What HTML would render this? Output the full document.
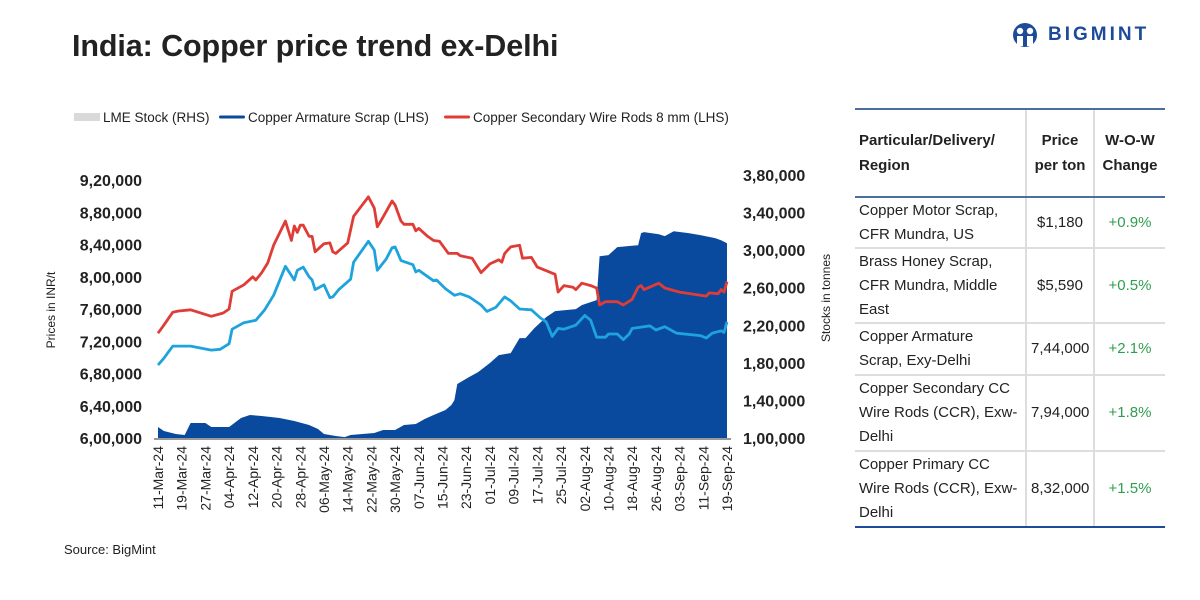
<!DOCTYPE html>
<html><head><meta charset="utf-8">
<style>
*{margin:0;padding:0;box-sizing:border-box}
body{width:1200px;height:600px;background:#fff;font-family:"Liberation Sans",Arial,sans-serif;position:relative;overflow:hidden;color:#222}
#title{position:absolute;left:72px;top:29px;font-size:30.5px;font-weight:bold;color:#222;letter-spacing:-0.1px}
#logo{position:absolute;left:1010px;top:22px;display:flex;align-items:center;gap:8px}
#logo span{font-weight:bold;font-size:19px;color:#1d4b9a;letter-spacing:3px}
#source{position:absolute;left:64px;top:542px;font-size:13px}
table{position:absolute;left:855px;top:108px;width:310px;border-collapse:collapse;font-size:15px;line-height:24px;table-layout:fixed}
td,th{padding:0 4px;vertical-align:middle;overflow:hidden}
th{font-weight:bold;text-align:left;vertical-align:top;padding-top:18px;height:88px;border-top:2px solid #4a6f9a;border-bottom:2px solid #4a6f9a;line-height:25px}
td{border-bottom:2px solid #ddd}
tr:last-child td{border-bottom:2px solid #1d4b9a}
.c2,.c3{text-align:center;border-left:2px solid #ddd}
.c3{color:#2e9e4f}
th.c2,th.c3{text-align:center;color:#222}
</style></head><body>
<div id="title">India: Copper price trend ex-Delhi</div>
<div id="logo">
<svg width="30" height="26" viewBox="0 0 30 26"><circle cx="15" cy="13" r="12" fill="#1d4b9a"/><circle cx="10" cy="9" r="3.2" fill="#fff"/><circle cx="20" cy="9" r="3.2" fill="#fff"/><path d="M7 14h6v10h-6zM17 14h6v10h-6z" fill="#fff"/></svg>
<span>BIGMINT</span></div>
<svg id="chart" width="850" height="540" style="position:absolute;left:0;top:0" font-family="Liberation Sans, Arial, sans-serif"></svg>
<div id="source">Source: BigMint</div>
<table>
<tr><th style="width:171px">Particular/Delivery/<br>Region</th><th class="c2" style="width:68px">Price<br>per ton</th><th class="c3" style="width:71px">W-O-W<br>Change</th></tr>
<tr style="height:51px"><td>Copper Motor Scrap,<br>CFR Mundra, US</td><td class="c2">$1,180</td><td class="c3">+0.9%</td></tr>
<tr style="height:75px"><td>Brass Honey Scrap,<br>CFR Mundra, Middle<br>East</td><td class="c2">$5,590</td><td class="c3">+0.5%</td></tr>
<tr style="height:52px"><td>Copper Armature<br>Scrap, Exy-Delhi</td><td class="c2">7,44,000</td><td class="c3">+2.1%</td></tr>
<tr style="height:76px"><td>Copper Secondary CC<br>Wire Rods (CCR), Exw-<br>Delhi</td><td class="c2">7,94,000</td><td class="c3">+1.8%</td></tr>
<tr style="height:76px"><td>Copper Primary CC<br>Wire Rods (CCR), Exw-<br>Delhi</td><td class="c2">8,32,000</td><td class="c3">+1.5%</td></tr>
</table>
<script>
const xTickLabels=["11-Mar-24","19-Mar-24","27-Mar-24","04-Apr-24","12-Apr-24","20-Apr-24","28-Apr-24","06-May-24","14-May-24","22-May-24","30-May-24","07-Jun-24","15-Jun-24","23-Jun-24","01-Jul-24","09-Jul-24","17-Jul-24","25-Jul-24","02-Aug-24","10-Aug-24","18-Aug-24","26-Aug-24","03-Sep-24","11-Sep-24","19-Sep-24"];
const leftTicks=[600000,640000,680000,720000,760000,800000,840000,880000,920000];
const rightTicks=[100000,140000,180000,220000,260000,300000,340000,380000];
const redDays=[0,2,5,7,11,18,22,24,25,29,32,33,35,37,39,43,45,46,47,48,49,51,52,53,56,58,59,60,64,66,71,73,74,75,79,80,82,83,86,87,88,91,93,95,98,101,102,106,108,109,112,115,116,117,119,122,123,126,128,132,134,135,137,140,141,143,146,148,149,151,155,157,160,162,163,164,169,171,176,185,186,189,190,191,192];
const redVals=[730000,740000,756000,757500,759000,751000,755000,760000,782000,790000,800000,796000,805000,817000,839000,869000,845000,863000,855000,864000,864000,850000,850000,831000,841000,842000,831000,829000,842000,875000,899000,885000,862000,868000,894000,889000,869000,865000,865000,857000,860000,850000,845000,844000,829000,829000,826000,823000,811000,805000,816000,821000,818000,829000,837000,839000,823000,824000,812000,806000,803000,781000,789000,787000,784000,792000,789000,786000,765000,769000,769000,765000,772000,787000,789000,784000,792000,786000,781000,776000,780000,779000,784000,781000,794000];
const blueDays=[0,2,5,11,18,21,24,25,29,33,36,39,43,46,47,49,51,52,53,56,58,59,61,65,66,71,73,74,77,79,80,82,86,87,88,93,94,97,100,102,105,109,111,114,117,119,122,126,129,131,133,135,137,141,144,146,148,151,152,155,157,159,160,166,168,171,175,183,185,187,190,191,192];
const blueVals=[690500,699000,714000,714000,709000,710000,717000,735000,743000,746000,759000,777000,813000,796000,808000,812000,800000,796000,784000,790000,774000,775000,784000,797000,818000,844000,833000,808000,822000,836000,837000,820000,815000,806000,808000,795000,796000,785000,777000,779000,775000,765000,757000,762000,775000,770000,760000,759000,749000,744000,726000,736000,735000,740000,752000,746000,725000,725000,729000,729000,722000,729000,736000,739000,734000,738000,730000,727000,724000,730000,733000,731000,744000];
const stockDays=[0,2,6,9,11,16,18,24,28,31,35,41,46,51,54,56,60,63,65,73,76,80,83,87,90,93,97,99,100,101,105,108,112,115,119,122,124,127,131,134,141,143,148,149,152,155,162,163,164,169,171,174,179,183,188,190,192];
const stockVals=[111700,107400,104300,103200,116000,116000,111700,111700,121300,124500,123400,121300,118100,113800,109600,104300,102100,101000,103200,105300,108500,108500,113800,114900,120200,124500,129800,135100,140400,157500,164900,170200,179800,188300,190400,206400,206400,217000,228700,235100,237200,241500,246800,293600,294700,303200,305300,318100,319200,317000,314900,320200,318100,316000,312800,310600,307400];

const NS="http://www.w3.org/2000/svg";
const svg=document.getElementById('chart');
const X0=158,X1=727,DAYS=192;
const xS=d=>X0+d*(X1-X0)/DAYS;
const yL=v=>438-(v-600000)*(438-180)/320000;
const yR=v=>438-(v-100000)*(438-175)/280000;
function mk(tag,attrs){const e=document.createElementNS(NS,tag);for(const k in attrs)e.setAttribute(k,attrs[k]);svg.appendChild(e);return e;}
function txt(x,y,s,attrs){const e=mk('text',Object.assign({x:x,y:y},attrs));e.textContent=s;return e;}

let d='M'+xS(stockDays[0])+','+yR(100000);
stockDays.forEach((dd,i)=>{d+=' L'+xS(dd).toFixed(1)+','+yR(stockVals[i]).toFixed(1);});
d+=' L'+xS(stockDays[stockDays.length-1])+','+yR(100000)+' Z';
const area=mk('path',{d:d,fill:'#0a4a9e'});



function line(days,vals,color,name){
 const p=days.map((dd,i)=>xS(dd).toFixed(1)+','+yL(vals[i]).toFixed(1)).join(' ');
 const l=mk('polyline',{points:p,fill:'none',stroke:color,'stroke-width':2.8,'stroke-linejoin':'round'});
 
 
}
line(blueDays,blueVals,'#1ea3dc','armature-scrap-line');
line(redDays,redVals,'#e03c37','secondary-wire-rods-line');

const ax=mk('line',{x1:X0-4,x2:X1+4,y1:439,y2:439,stroke:'#333','stroke-width':1});



function fmt(v){const s=String(v);const last3=s.slice(-3);let rest=s.slice(0,-3);const parts=[];while(rest.length>2){parts.unshift(rest.slice(-2));rest=rest.slice(0,-2);}if(rest)parts.unshift(rest);return parts.join(',')+','+last3;}
leftTicks.forEach(v=>{const t=txt(142,yL(v)+6,fmt(v),{'text-anchor':'end','font-size':16,'font-weight':'bold',fill:'#222'});
 
 });
rightTicks.forEach(v=>{const t=txt(743,yR(v)+6,fmt(v),{'font-size':16,'font-weight':'bold',fill:'#222'});
 
 });
xTickLabels.forEach((s,i)=>{const x=xS(i*8)+5;const t=txt(x,446,s,{'text-anchor':'end','font-size':14,fill:'#222',transform:'rotate(-90 '+x+' 446)'});
 
 });
const yt=txt(55,310,'Prices in INR/t',{'text-anchor':'middle','font-size':12,fill:'#222',transform:'rotate(-90 55 310)'});


const yt2=txt(830,298,'Stocks in tonnes',{'text-anchor':'middle','font-size':12,fill:'#222',transform:'rotate(-90 830 298)'});



const lg=[[74,'#d9d9d9','LME Stock (RHS)',8,'legend-lme-stock'],[219,'#0a4a9e','Copper Armature Scrap (LHS)',3,'legend-armature-scrap'],[444,'#e03c37','Copper Secondary Wire Rods 8 mm (LHS)',3,'legend-wire-rods']];
lg.forEach(([x,c,s,h,n])=>{
 const r=mk('rect',{x:x,y:117-h/2,width:26,height:h,fill:c,rx:h>4?0:1.5});
 
 
 const t=txt(x+29,122,s,{'font-size':13.5,fill:'#222'});
 
 
});
</script>
</body></html>
